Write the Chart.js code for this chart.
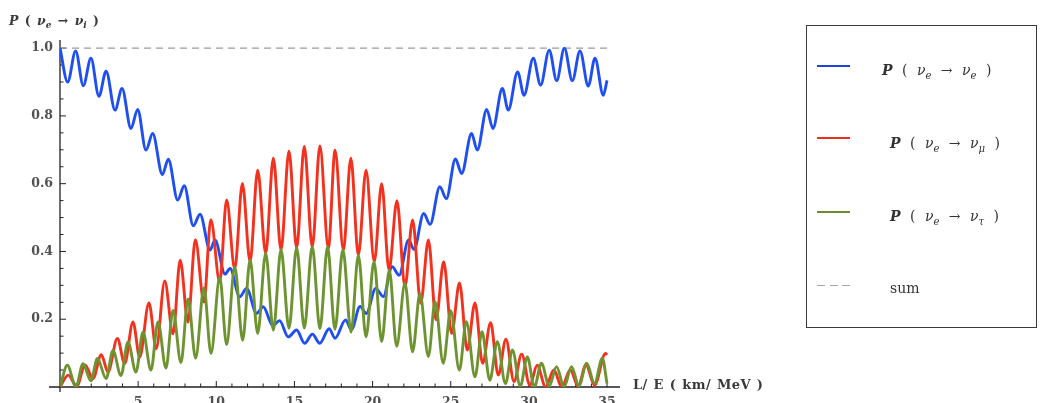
<!DOCTYPE html>
<html>
<head>
<meta charset="utf-8">
<script src="https://cdn.jsdelivr.net/npm/chart.js@4.4.1/dist/chart.umd.min.js"></script>
<style>
html,body{margin:0;padding:0;background:#fff;width:1041px;height:403px;overflow:hidden}
#wrap{position:relative;width:1041px;height:403px}
#c{position:absolute;left:0;top:0}
.t{position:absolute;font-family:"DejaVu Serif","Liberation Serif",serif;color:#333;white-space:nowrap;line-height:14px;font-size:14px}
.t sub{font-size:72%;vertical-align:-0.35em;line-height:0}
.t i{font-style:italic}
.lg{word-spacing:5px}
#legend{position:absolute;left:806px;top:25px;width:231px;height:303px;border:1.5px solid #3a3a3a;box-sizing:border-box}
.ls{position:absolute;left:817px;width:33px;height:0}
.dash{position:absolute;left:817px;width:33px;height:1.6px;background:repeating-linear-gradient(90deg,#a8a8a8 0 8px,transparent 8px 12.5px)}
</style>
</head>
<body>
<div id="wrap">
<canvas id="c" width="1041" height="403"></canvas>
<div class="t" style="left:9px;top:14px;font-size:12.5px;font-weight:bold;color:#3a3a3a;word-spacing:2px"><i>P</i> ( <i>ν</i><sub><i>e</i></sub> → <i>ν</i><sub><i>i</i></sub> )</div>
<div class="t" style="left:633px;top:378px;font-size:13px;font-weight:bold;color:#3a3a3a;letter-spacing:0.4px;word-spacing:1px">L/ E ( km/ MeV )</div>
<div id="legend"></div>
<div class="ls" style="top:64.5px;border-top:2.6px solid #1f45d8"></div>
<div class="ls" style="top:137px;border-top:2.6px solid #e8321e"></div>
<div class="ls" style="top:210.5px;border-top:2.6px solid #6e8a32"></div>
<div class="dash" style="top:284.5px"></div>
<div class="t lg" style="left:882px;top:63px"><i><b>P</b></i> ( <i>ν</i><sub><i>e</i></sub> → <i>ν</i><sub><i>e</i></sub> )</div>
<div class="t lg" style="left:890px;top:136px"><i><b>P</b></i> ( <i>ν</i><sub><i>e</i></sub> → <i>ν</i><sub><i>μ</i></sub> )</div>
<div class="t lg" style="left:890px;top:209px"><i><b>P</b></i> ( <i>ν</i><sub><i>e</i></sub> → <i>ν</i><sub><i>τ</i></sub> )</div>
<div class="t" style="left:890px;top:281px">sum</div>
</div>
<script>
// P(nu_e -> nu_e) (local extrema)
const eeX = [0, 0.49, 1.0, 1.49, 1.98, 2.49, 2.95, 3.52, 3.97, 4.54, 4.97, 5.5, 5.93, 6.55, 6.93, 7.53, 7.95, 8.53, 8.96, 9.6, 9.92, 10.56, 10.88, 11.5, 11.94, 12.58, 13.0, 13.62, 14.05, 14.6, 15.14, 15.65, 16.15, 16.62, 17.22, 17.6, 18.27, 18.64, 19.2, 19.6, 20.2, 20.69, 21.25, 21.7, 22.3, 22.65, 23.27, 23.68, 24.3, 24.72, 25.3, 25.7, 26.33, 26.7, 27.3, 27.7, 28.3, 28.68, 29.28, 29.69, 30.28, 30.75, 31.3, 31.78, 32.27, 32.78, 33.27, 33.8, 34.23, 34.76, 35.0];
const eeP = [1.0, 0.90, 0.992, 0.889, 0.970, 0.858, 0.932, 0.817, 0.881, 0.763, 0.819, 0.699, 0.748, 0.627, 0.672, 0.552, 0.594, 0.476, 0.51, 0.404, 0.434, 0.333, 0.35, 0.266, 0.291, 0.217, 0.237, 0.181, 0.196, 0.148, 0.168, 0.129, 0.156, 0.129, 0.172, 0.144, 0.198, 0.169, 0.238, 0.217, 0.291, 0.267, 0.355, 0.330, 0.434, 0.406, 0.512, 0.48, 0.591, 0.556, 0.673, 0.630, 0.748, 0.699, 0.819, 0.763, 0.881, 0.817, 0.930, 0.861, 0.970, 0.891, 0.994, 0.904, 1.0, 0.904, 0.992, 0.888, 0.970, 0.861, 0.905];

// P(nu_e -> nu_mu)
const emX = [0, 0.53, 1.07, 1.6, 2.11, 2.64, 3.07, 3.67, 4.14, 4.67, 5.1, 5.69, 6.16, 6.7, 7.23, 7.69, 8.19, 8.66, 9.21, 9.65, 10.22, 10.66, 11.18, 11.67, 12.16, 12.65, 13.16, 13.65, 14.14, 14.65, 15.14, 15.63, 16.14, 16.63, 17.17, 17.6, 18.13, 18.61, 19.09, 19.58, 20.11, 20.58, 21.05, 21.56, 22.07, 22.56, 23.08, 23.57, 24.06, 24.55, 25.06, 25.56, 26.06, 26.55, 27.04, 27.55, 28.04, 28.53, 29.05, 29.54, 30.06, 30.53, 31.07, 31.6, 32.1, 32.65, 33.15, 33.65, 34.2, 34.9, 35.0];
const emP = [0, 0.035, 0.002, 0.065, 0.025, 0.095, 0.044, 0.143, 0.069, 0.192, 0.088, 0.248, 0.113, 0.313, 0.157, 0.374, 0.192, 0.435, 0.251, 0.494, 0.31, 0.552, 0.349, 0.601, 0.37, 0.640, 0.394, 0.675, 0.404, 0.696, 0.41, 0.71, 0.413, 0.711, 0.41, 0.699, 0.404, 0.675, 0.389, 0.64, 0.37, 0.6, 0.345, 0.55, 0.296, 0.493, 0.247, 0.434, 0.198, 0.37, 0.158, 0.307, 0.109, 0.248, 0.07, 0.19, 0.035, 0.141, 0.016, 0.097, 0.005, 0.064, 0.0, 0.05, 0.0, 0.05, 0.003, 0.065, 0.005, 0.099, 0.095];

// P(nu_e -> nu_tau)
const etX = [0, 0.47, 1.02, 1.47, 1.98, 2.39, 2.95, 3.39, 3.9, 4.35, 4.86, 5.31, 5.82, 6.27, 6.78, 7.23, 7.74, 8.19, 8.68, 9.21, 9.66, 10.22, 10.66, 11.18, 11.69, 12.16, 12.65, 13.16, 13.65, 14.14, 14.65, 15.14, 15.63, 16.14, 16.63, 17.12, 17.59, 18.1, 18.62, 19.09, 19.58, 20.09, 20.58, 21.07, 21.54, 22.07, 22.56, 23.03, 23.57, 24.0, 24.52, 25.0, 25.55, 26.0, 26.55, 27.0, 27.5, 27.98, 28.5, 28.95, 29.45, 29.9, 30.35, 30.8, 31.3, 31.77, 32.25, 32.73, 33.2, 33.7, 34.2, 34.7, 35.0];
const etP = [0, 0.064, 0.0, 0.069, 0.018, 0.084, 0.025, 0.108, 0.034, 0.133, 0.044, 0.162, 0.05, 0.192, 0.056, 0.226, 0.072, 0.26, 0.085, 0.293, 0.099, 0.324, 0.125, 0.354, 0.138, 0.375, 0.158, 0.395, 0.168, 0.405, 0.173, 0.412, 0.174, 0.415, 0.172, 0.414, 0.17, 0.405, 0.162, 0.389, 0.148, 0.37, 0.134, 0.345, 0.12, 0.306, 0.104, 0.276, 0.09, 0.252, 0.07, 0.225, 0.05, 0.193, 0.03, 0.163, 0.02, 0.134, 0.01, 0.109, 0.002, 0.089, 0.0, 0.07, 0.003, 0.06, 0.0, 0.06, 0.003, 0.07, 0.01, 0.085, 0.01];

// sum of the three probabilities
const sumX = [0, 35];
const sumP = [1.0, 1.0];

const xTickValues = [5, 10, 15, 20, 25, 30, 35];
const xTickLabels = ['5', '10', '15', '20', '25', '30', '35'];
const yTickValues = [0.2, 0.4, 0.6, 0.8, 1.0];
const yTickLabels = ['0.2', '0.4', '0.6', '0.8', '1.0'];

const pts = (xs, ys) => xs.map((x, i) => ({ x: x, y: ys[i] }));

const axesPlugin = {
  id: 'mmaAxes',
  beforeDatasetsDraw(chart) {
    const ctx = chart.ctx, xs = chart.scales.x, ys = chart.scales.y;
    const x0 = xs.getPixelForValue(0), y0 = ys.getPixelForValue(0);
    ctx.save();
    ctx.strokeStyle = '#222';
    ctx.lineWidth = 1.3;
    ctx.beginPath();
    ctx.moveTo(x0 - 11, y0); ctx.lineTo(xs.right, y0);
    ctx.moveTo(x0, y0 + 5); ctx.lineTo(x0, ys.top);
    ctx.stroke();
    ctx.lineWidth = 1;
    ctx.beginPath();
    for (let i = 1; i <= 35; i++) {
      const px = xs.getPixelForValue(i);
      const len = i % 5 === 0 ? 6 : 3.5;
      ctx.moveTo(px, y0); ctx.lineTo(px, y0 - len);
    }
    for (let j = 1; j <= 20; j++) {
      const py = ys.getPixelForValue(j * 0.05);
      const len = j % 4 === 0 ? 6 : 3.5;
      ctx.moveTo(x0, py); ctx.lineTo(x0 + len, py);
    }
    ctx.stroke();
    ctx.restore();
  }
};

const lineBase = { pointRadius: 0, fill: false, cubicInterpolationMode: 'monotone', borderWidth: 2.9 };

new Chart(document.getElementById('c'), {
  type: 'line',
  data: {
    datasets: [
      Object.assign({ label: 'P(νe→νe)', data: pts(eeX, eeP), borderColor: '#1f4ff0', order: 3 }, lineBase),
      Object.assign({ label: 'P(νe→νμ)', data: pts(emX, emP), borderColor: '#f2321e', order: 2 }, lineBase),
      Object.assign({ label: 'P(νe→ντ)', data: pts(etX, etP), borderColor: '#6e9432', order: 1 }, lineBase),
      { label: 'sum', data: pts(sumX, sumP), borderColor: '#9a9a9a', borderWidth: 1.3, borderDash: [7, 5], pointRadius: 0, fill: false, order: 4 }
    ]
  },
  options: {
    responsive: false,
    animation: false,
    events: [],
    layout: { padding: { left: 0, right: 421, top: 40, bottom: 0 } },
    plugins: { legend: { display: false }, tooltip: { enabled: false }, title: { display: false } },
    scales: {
      x: {
        type: 'linear', min: 0, max: 35.83,
        grid: { display: false, drawTicks: false }, border: { display: false },
        afterBuildTicks: s => { s.ticks = xTickValues.map(v => ({ value: v })); },
        afterFit: s => { s.height = 16; },
        ticks: {
          padding: 8, color: '#505050', maxRotation: 0, autoSkip: false,
          font: { family: '"DejaVu Serif", serif', size: 12.5, weight: 'bold' },
          callback: v => { const k = xTickValues.indexOf(v); return k >= 0 ? xTickLabels[k] : ''; }
        }
      },
      y: {
        type: 'linear', min: 0, max: 1.024,
        grid: { display: false, drawTicks: false }, border: { display: false },
        afterBuildTicks: s => { s.ticks = yTickValues.map(v => ({ value: v })); },
        afterFit: s => { s.width = 60; },
        ticks: {
          padding: 7, color: '#505050', autoSkip: false,
          font: { family: '"DejaVu Serif", serif', size: 12.5, weight: 'bold' },
          callback: v => { const k = yTickValues.indexOf(v); return k >= 0 ? yTickLabels[k] : ''; }
        }
      }
    }
  },
  plugins: [axesPlugin]
});
</script>
</body>
</html>
